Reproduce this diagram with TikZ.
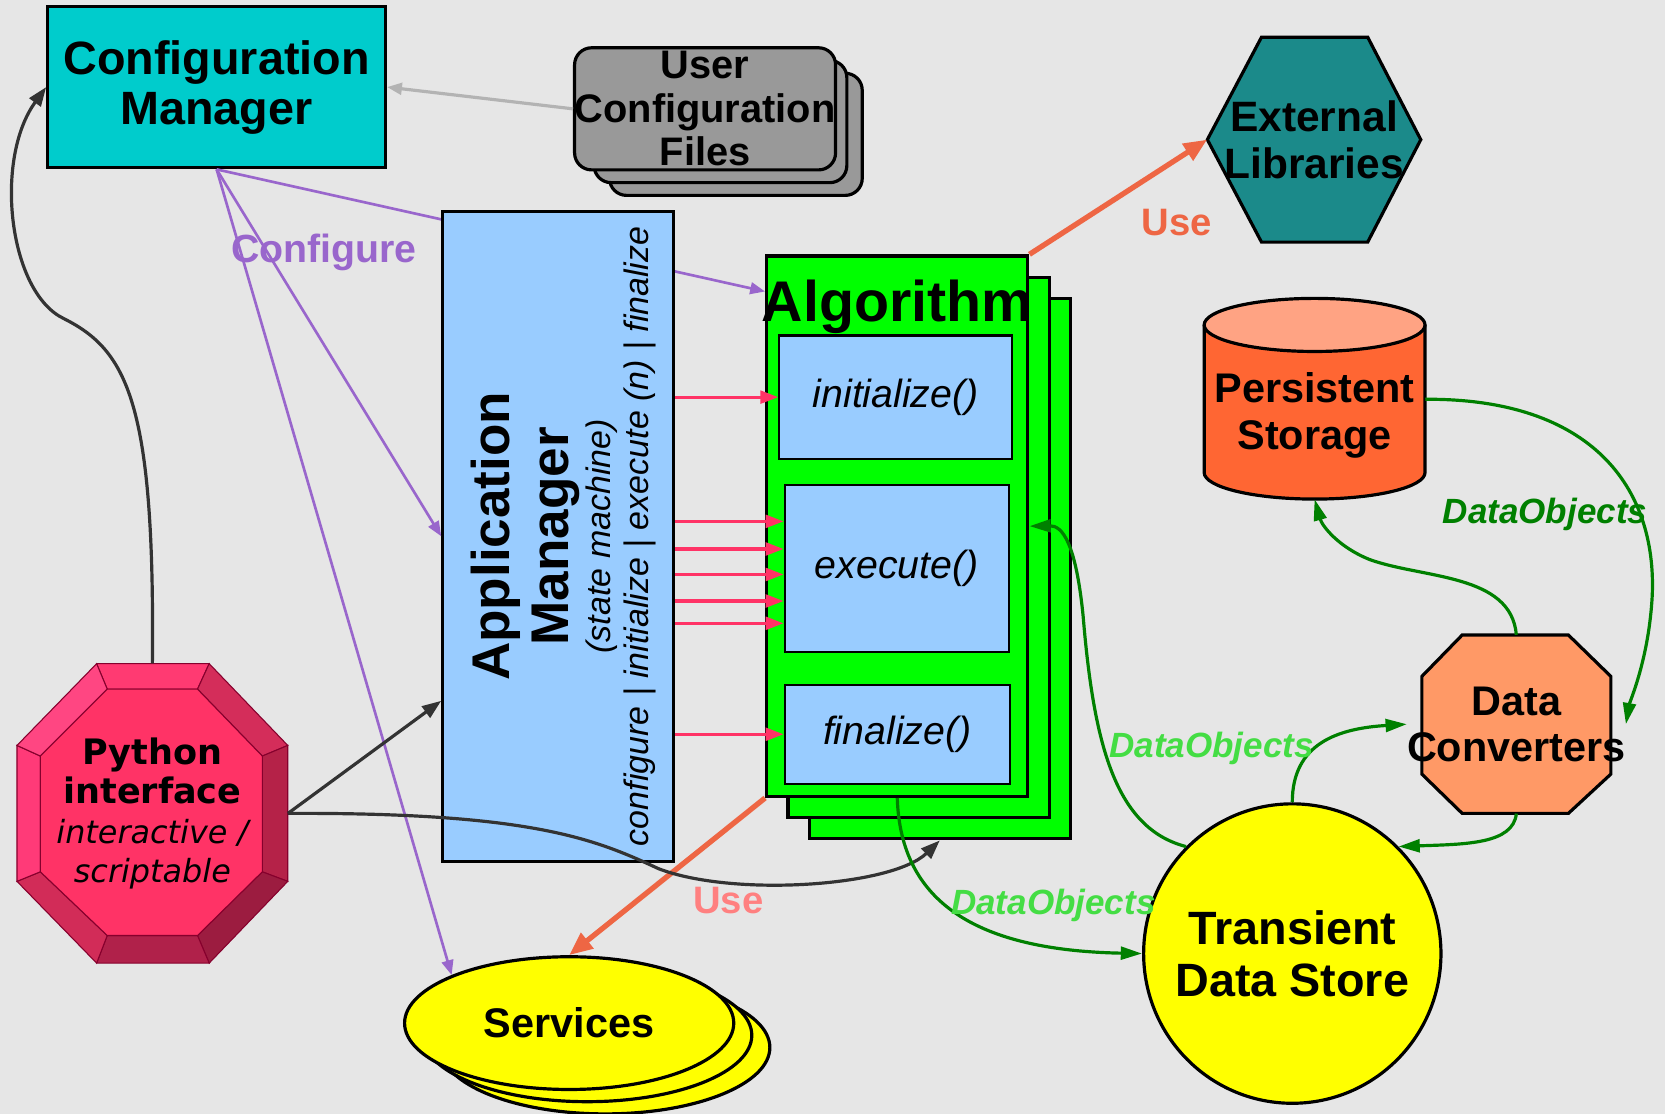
\documentclass[tikz,border=0pt]{standalone}
\usepackage{fontspec}
\setmainfont{Liberation Sans}
\newfontfamily\pyfont{DejaVu Sans}
\usetikzlibrary{shapes.geometric,arrows.meta,calc}
\definecolor{bg}{HTML}{E6E6E6}
\definecolor{cmcyan}{HTML}{00CCCC}
\definecolor{ucfgrey}{HTML}{999999}
\definecolor{extteal}{HTML}{1B8A8A}
\definecolor{psbody}{HTML}{FF6633}
\definecolor{pstop}{HTML}{FFA383}
\definecolor{amblue}{HTML}{99CCFF}
\definecolor{alggreen}{HTML}{00FF00}
\definecolor{pyred}{HTML}{FF3366}
\definecolor{pyt}{HTML}{FF3A72}
\definecolor{pytr}{HTML}{D42D5A}
\definecolor{pyr}{HTML}{B52248}
\definecolor{pybr}{HTML}{9C1C40}
\definecolor{pyb}{HTML}{B0214A}
\definecolor{pybl}{HTML}{D22C58}
\definecolor{pyl}{HTML}{FF3A78}
\definecolor{pytl}{HTML}{FF4682}
\definecolor{dcorange}{HTML}{FF9966}
\definecolor{yel}{HTML}{FFFF00}
\definecolor{cfgpurple}{HTML}{9966CC}
\definecolor{callpink}{HTML}{FF3366}
\definecolor{useorange}{HTML}{EE6644}
\definecolor{usepink}{HTML}{FF8080}
\definecolor{dgreen}{HTML}{008000}
\definecolor{lgreen}{HTML}{44DD44}
\definecolor{dark}{HTML}{333333}
\definecolor{lgrey}{HTML}{B3B3B3}
\tikzstyle{box} = [draw=black, line width=3pt, inner sep=0pt, align=center]
\tikzstyle{ucfbox} = [box, rounded corners=16pt, fill=ucfgrey, minimum width=238pt, minimum height=115pt]
\tikzstyle{algbox} = [box, fill=alggreen, minimum width=246pt, minimum height=509pt]
\tikzstyle{method} = [draw=black, line width=2pt, fill=amblue, font={\fontsize{37}{40}\selectfont\itshape}]
\tikzstyle{srvbox} = [box, ellipse, fill=yel, minimum width=310pt, minimum height=125pt]
\tikzstyle{title} = [inner sep=0pt, align=center]
\tikzstyle{cfg} = [draw=cfgpurple, line width=2.5pt, -{Triangle[length=14pt,width=11pt]}]
\tikzstyle{call} = [draw=callpink, line width=3pt, -{Triangle[length=17pt,width=12pt]}]
\tikzstyle{use} = [draw=useorange, line width=5pt, -{Triangle[length=22pt,width=18pt]}]
\tikzstyle{ctrl} = [draw=dark, line width=3pt, -{Triangle[length=18pt,width=13pt]}]
\tikzstyle{data} = [draw=dgreen, line width=3pt, -{Triangle[length=20pt,width=12pt]}]
\tikzstyle{dlabel} = [text=lgreen, font={\fontsize{33}{36}\selectfont\bfseries\itshape}]
\tikzstyle{uselabel} = [text=useorange, font={\fontsize{36}{40}\selectfont\bfseries}]
\tikzstyle{pyedge} = [draw=purple!70!black, line width=1pt]

\begin{document}
\begin{tikzpicture}[x=1pt,y=-1pt]
  \fill[bg] (0,0) rectangle (1568,1049);
  \useasboundingbox (0,0) rectangle (1568,1049);

  \node[box,fill=cmcyan,minimum width=318pt,minimum height=152pt,font={\fontsize{44}{47}\selectfont\bfseries}] (cm) at (204,82) {Configuration\\Manager};

  \foreach \i in {2,1}
    \node[ucfbox] (ucf\i) at (664+14.5*\i,102.5+12*\i) {};
  \node[ucfbox,font={\fontsize{37.5}{41}\selectfont\bfseries}] (ucf) at (664,102.5) {User\\Configuration\\Files};
  \draw[draw=lgrey, line width=3pt, -{Triangle[length=14pt,width=11pt]}] (ucf.west) -- (cm.east);

  \draw[line width=3pt, fill=extteal] (1188,35) -- (1288,35) -- (1338,131.5) -- (1288,228) -- (1188,228) -- (1137,131.5) -- cycle;
  \node[title,minimum width=201pt,minimum height=193pt,font={\fontsize{40}{44}\selectfont\bfseries}] (ext) at (1237.5,131.5) {External\\Libraries};

  \draw[line width=3pt, fill=psbody] (1134,306) -- (1134,445) arc[start angle=180, end angle=0, x radius=104, y radius=25] -- (1342,306);
  \draw[line width=3pt, fill=pstop] (1238,306) ellipse[x radius=104, y radius=25];
  \node[title,minimum width=208pt,minimum height=158pt,font={\fontsize{39}{44}\selectfont\bfseries}] (ps) at (1238,391) {Persistent\\Storage};

  \foreach \i in {2,1}
    \node[algbox] (alg\i) at (845+20*\i,495.5+20*\i) {};
  \node[algbox] (alg) at (845,495.5) {};
  \node[anchor=base,inner sep=0pt,font={\fontsize{54}{58}\selectfont\bfseries}] (algtitle) at (845,303) {Algorithm};
  \node[method,minimum width=219pt,minimum height=116pt] (init) at (843.5,374) {initialize()};
  \node[method,minimum width=211pt,minimum height=157pt] (exec) at (844.5,535.5) {execute()};
  \node[method,minimum width=212pt,minimum height=93pt] (fin) at (845,691.5) {finalize()};

  \draw[cfg] (cm.south) -- ($(alg.north west)+(0,35)$);
  \node[box,fill=amblue,minimum width=217pt,minimum height=612pt] (am) at (525.5,505) {};
  \node[title,rotate=90,font={\fontsize{50}{56}\selectfont\bfseries}] (amtitle) at (494.7,505) {Application\\Manager};
  \node[title,rotate=90,font={\fontsize{32}{36}\selectfont\itshape}] (amstates) at (585,505) {(state machine)\\configure | initialize | execute (n) | finalize};

  \draw[call] (am.east |- init.west) -- (init.west);
  \foreach \y in {491,517,541,566,587}
    \draw[call] (am.east |- 0,\y) -- (exec.west |- 0,\y);
  \draw[call] (am.east |- fin.west) -- (fin.west);

  \foreach \i in {2,1}
    \node[srvbox] (srv\i) at (536+17*\i,963.5+11.5*\i) {};
  \node[srvbox,font={\fontsize{39}{42}\selectfont\bfseries}] (srv) at (536,963.5) {Services};

  \node[box,ellipse,fill=yel,minimum width=280pt,minimum height=282pt] (tds) at (1217,898) {};
  \node[title,font={\fontsize{44}{49}\selectfont\bfseries}] (tdstext) at (tds.center) {Transient\\Data Store};

  \draw[line width=3pt, fill=dcorange] (1377,598) -- (1477,598) -- (1517,637) -- (1517,729) -- (1477,766) -- (1377,766) -- (1339,729) -- (1339,637) -- cycle;
  \node[title,minimum width=178pt,minimum height=168pt,font={\fontsize{39}{43}\selectfont\bfseries}] (dc) at (1428,682) {Data\\Converters};

  \coordinate (o1) at (91,625);  \coordinate (o2) at (197,625);
  \coordinate (o3) at (271,702); \coordinate (o4) at (271,830);
  \coordinate (o5) at (197,907); \coordinate (o6) at (91,907);
  \coordinate (o7) at (16,830);  \coordinate (o8) at (16,702);
  \coordinate (i1) at (101,649); \coordinate (i2) at (186,649);
  \coordinate (i3) at (247,712); \coordinate (i4) at (247,821);
  \coordinate (i5) at (186,881); \coordinate (i6) at (101,881);
  \coordinate (i7) at (38,821);  \coordinate (i8) at (38,712);
  \foreach \p/\q/\col in {1/2/pyt,2/3/pytr,3/4/pyr,4/5/pybr,5/6/pyb,6/7/pybl,7/8/pyl,8/1/pytl}
    \draw[pyedge,fill=\col] (o\p) -- (o\q) -- (i\q) -- (i\p) -- cycle;
  \draw[pyedge,fill=pyred] (i1) -- (i2) -- (i3) -- (i4) -- (i5) -- (i6) -- (i7) -- (i8) -- cycle;
  \node[title,minimum width=255pt,minimum height=282pt,font={\pyfont\fontsize{30}{37}\selectfont}] (py) at (143.5,766)
    {{\fontsize{33}{37}\selectfont\bfseries Python}\\{\fontsize{33}{37}\selectfont\bfseries interface}\\{\itshape interactive /}\\{\itshape scriptable}};

  \draw[cfg] (cm.south) -- (am.west);
  \draw[cfg] (cm.south) -- (srv.north west);
  \node[text=cfgpurple,font={\fontsize{37}{40}\selectfont\bfseries}] (cfglabel) at (305,238) {Configure};

  \draw[use] (alg.north east) -- (ext.west);
  \draw[use] (alg.south west) -- (srv.north);
  \node[uselabel] (use1) at (1108,210) {Use};
  \node[uselabel,text=usepink] (use2) at (686,848) {Use};

  \draw[ctrl] (py.north) .. controls (146,380) and (120,330) .. (60,300) .. controls (8,275) and (-6,150) .. (cm.west);
  \draw[ctrl] (py.east) -- ($(am.west)+(0,155)$);
  \draw[ctrl] (py.east) .. controls (500,765) and (560,790) .. (620,818) .. controls (690,845) and (840,835) .. (alg2.south);

  \draw[data] (alg.south) .. controls (848,850) and (920,895) .. (tds.west);
  \draw[data] (tds.north west) .. controls (1050,780) and (1030,700) .. (1020,580) .. controls (1013,510) and (1000,495) .. (alg.east);
  \draw[data] (tds.north) .. controls (1217,700) and (1260,686) .. (dc.west);
  \draw[data] (dc.south) .. controls (1425,795) and (1380,795) .. (tds.north east);
  \draw[data] (dc.north) .. controls (1423,540) and (1340,545) .. (1290,527) .. controls (1260,515) and (1245,495) .. (ps.south);
  \draw[data] ($(ps.east)+(0,-15)$) .. controls (1500,375) and (1560,460) .. (1556,560) .. controls (1553,620) and (1535,660) .. (dc.east);
  \node[dlabel,text=dgreen] (do1) at (1455,484) {DataObjects};
  \node[dlabel] (do2) at (1141,705) {DataObjects};
  \node[dlabel] (do3) at (992,853) {DataObjects};
\end{tikzpicture}
\end{document}
